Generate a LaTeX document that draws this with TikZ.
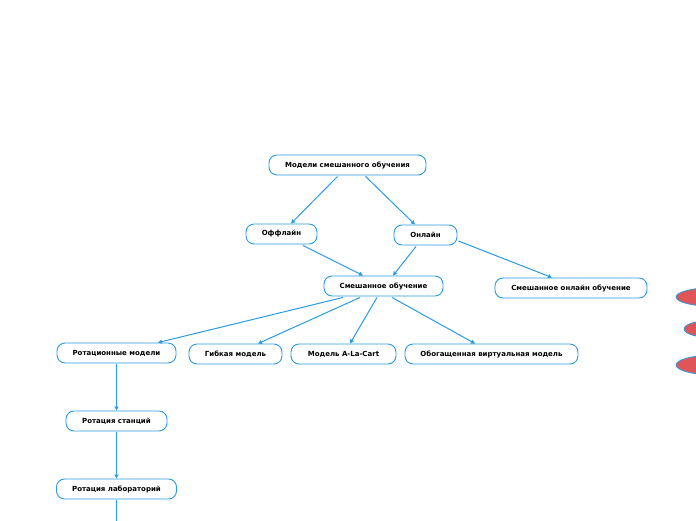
\documentclass[tikz,border=0pt]{standalone}
\usepackage{fontspec}
\setmainfont{DejaVu Sans}
\usetikzlibrary{calc,arrows.meta}
\definecolor{lb}{HTML}{2B9BE0}
\definecolor{rd}{HTML}{E05558}
\tikzset{
  box/.style={draw=lb, line width=0.9pt, rounded corners=8pt, fill=white, minimum height=20pt, inner xsep=0pt, font=\fontsize{7}{8}\selectfont\bfseries, text=black},
  conn/.style={draw=lb, line width=1pt, -{Triangle[length=4pt,width=4pt]}},
  tailline/.style={color=lb, line width=1pt},
  blob/.style={draw=lb, line width=0.8pt, fill=rd}
}
\begin{document}
\begin{tikzpicture}[x=1pt,y=-1pt]
\useasboundingbox (0,0) rectangle (696,520);
\clip (0,0) rectangle (696,520);
\node[box, minimum width=157pt] (top) at (347.5,165) {Модели смешанного обучения};
\node[box, minimum width=71pt] (off) at (281.5,234) {Оффлайн};
\node[box, minimum width=63pt] (on) at (425.5,235) {Онлайн};
\node[box, minimum width=119pt] (mix) at (383.5,286) {Смешанное обучение};
\node[box, minimum width=152pt] (mixon) at (571,288) {Смешанное онлайн обучение};
\node[box, minimum width=119pt] (rot) at (116.5,353) {Ротационные модели};
\node[box, minimum width=93pt] (flex) at (235.5,354) {Гибкая модель};
\node[box, minimum width=105pt] (alc) at (343.5,354) {Модель A-La-Cart};
\node[box, minimum width=173pt] (enr) at (491.5,354) {Обогащенная виртуальная модель};
\node[box, minimum width=101pt] (st) at (116.5,421) {Ротация станций};
\node[box, minimum width=120pt] (lab) at (116.5,489) {Ротация лабораторий};
\coordinate (bot) at (116.5,522);
\draw[conn] ($(top.south)+(-10,1)$) -- ($(off.north)+(9.5,0)$);
\draw[conn] ($(top.south)+(18,1)$) -- ($(on.north)+(-10.5,0)$);
\draw[conn] ($(off.south)+(21.5,1)$) -- ($(mix.north)+(-20.5,0)$);
\draw[conn] ($(on.south)+(-9.5,1)$) -- ($(mix.north)+(9.5,0)$);
\draw[conn] ($(on.east)+(1,6)$) -- ($(mixon.north)+(-19,0)$);
\draw[conn] ($(mix.south)+(-40.5,1)$) -- ($(rot.north)+(41.5,0)$);
\draw[conn] ($(mix.south)+(-23.5,1)$) -- ($(flex.north)+(22.5,0)$);
\draw[conn] ($(mix.south)+(-6.5,1)$) -- ($(alc.north)+(6.5,0)$);
\draw[conn] ($(mix.south)+(8.5,1)$) -- ($(enr.north)+(-16.5,0)$);
\draw[conn] ($(rot.south)+(0,1)$) -- (st.north);
\draw[conn] ($(st.south)+(0,1)$) -- (lab.north);
\draw[tailline] ($(lab.south)+(0,1)$) -- (bot);
\path[blob] (716,297) ellipse [x radius=40, y radius=9.5];
\path[blob] (712,329) ellipse [x radius=28, y radius=8.5];
\path[blob] (716,365) ellipse [x radius=40, y radius=10];
\end{tikzpicture}
\end{document}
